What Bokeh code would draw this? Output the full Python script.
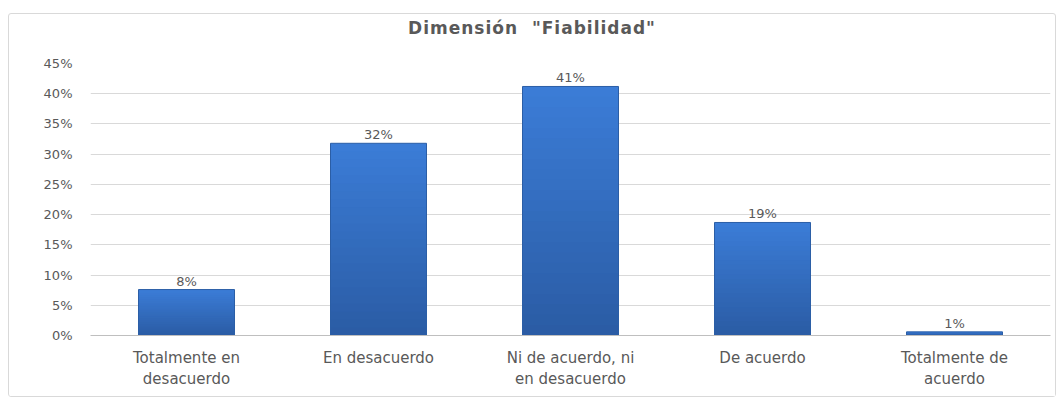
from bokeh.plotting import figure
from bokeh.models import ColumnDataSource, NumeralTickFormatter, FixedTicker, Div
from bokeh.layouts import column
from bokeh.embed import file_html
from bokeh.resources import INLINE
from bokeh.core.properties import value

categories = ["Totalmente en\ndesacuerdo", "En desacuerdo", "Ni de acuerdo, ni\nen desacuerdo",
              "De acuerdo", "Totalmente de\nacuerdo"]
values = [0.076, 0.318, 0.412, 0.187, 0.006]
labels = ["8%", "32%", "41%", "19%", "1%"]
y_ticks = [0, 0.05, 0.10, 0.15, 0.20, 0.25, 0.30, 0.35, 0.40, 0.45]
title = 'Dimensión&nbsp;&nbsp;"Fiabilidad"'

FONT = "DejaVu Sans"
GRAY = "#595959"

src = ColumnDataSource(dict(cat=categories, val=values, lab=labels))

head = Div(text=title, width=1046, height=32, margin=(0, 0, 0, 0),
           styles={"font-family": FONT, "font-size": "17px", "font-weight": "bold",
                   "color": GRAY, "text-align": "center", "line-height": "28px",
                   "letter-spacing": "1px", "width": "1046px"})

p = figure(x_range=categories, y_range=(0, 0.45), width=1046, height=350,
           output_backend="svg", toolbar_location=None,
           min_border_left=81, min_border_right=5, min_border_top=17, min_border_bottom=61)
p.margin = (0, 0, 0, 0)
p.outline_line_color = None
p.background_fill_color = "white"
p.border_fill_color = "white"

# vertical gradient: lighter at top, darker at bottom (layers scaled from each bar's value)
top_rgb = (0x3b, 0x7c, 0xd6)
bot_rgb = (0x2a, 0x5b, 0xa3)
N = 24
for k in range(N, 0, -1):
    f = k / N
    c = tuple(int(round(b + (t - b) * f)) for t, b in zip(top_rgb, bot_rgb))
    col = "#%02x%02x%02x" % c
    p.vbar(x=categories, top=[v * f for v in values], width=0.5, fill_color=col, line_color=None)
p.vbar(x="cat", top="val", width=0.5, source=src, fill_color=None,
       line_color="#2b5ea6", line_width=1)

p.text(x="cat", y="val", text="lab", source=src, text_align="center", text_baseline="bottom",
       y_offset=-1, text_font=value(FONT), text_font_size="13px", text_color=GRAY)

p.yaxis.ticker = FixedTicker(ticks=y_ticks)
p.yaxis.formatter = NumeralTickFormatter(format="0%")
p.yaxis.axis_line_color = None
p.yaxis.major_tick_line_color = None
p.yaxis.minor_tick_line_color = None
p.yaxis.major_label_text_font = FONT
p.yaxis.major_label_text_font_size = "13px"
p.yaxis.major_label_text_color = GRAY
p.yaxis.major_label_standoff = 12

p.xaxis.axis_line_color = "#bfbfbf"
p.xaxis.major_tick_line_color = None
p.xaxis.minor_tick_line_color = None
p.xaxis.major_label_text_font = FONT
p.xaxis.major_label_text_font_size = "15px"
p.xaxis.major_label_text_color = GRAY
p.xaxis.major_label_standoff = 7

p.xgrid.grid_line_color = None
p.ygrid.grid_line_color = "#d9d9d9"

p.x_range.range_padding = 0

layout = column(head, p, width=1048, height=384, margin=(13, 8, 3, 8), spacing=0,
                styles={"border": "1px solid #d9d9d9", "border-radius": "3px",
                        "background-color": "white"})

open("out.html", "w").write(file_html(layout, INLINE))
